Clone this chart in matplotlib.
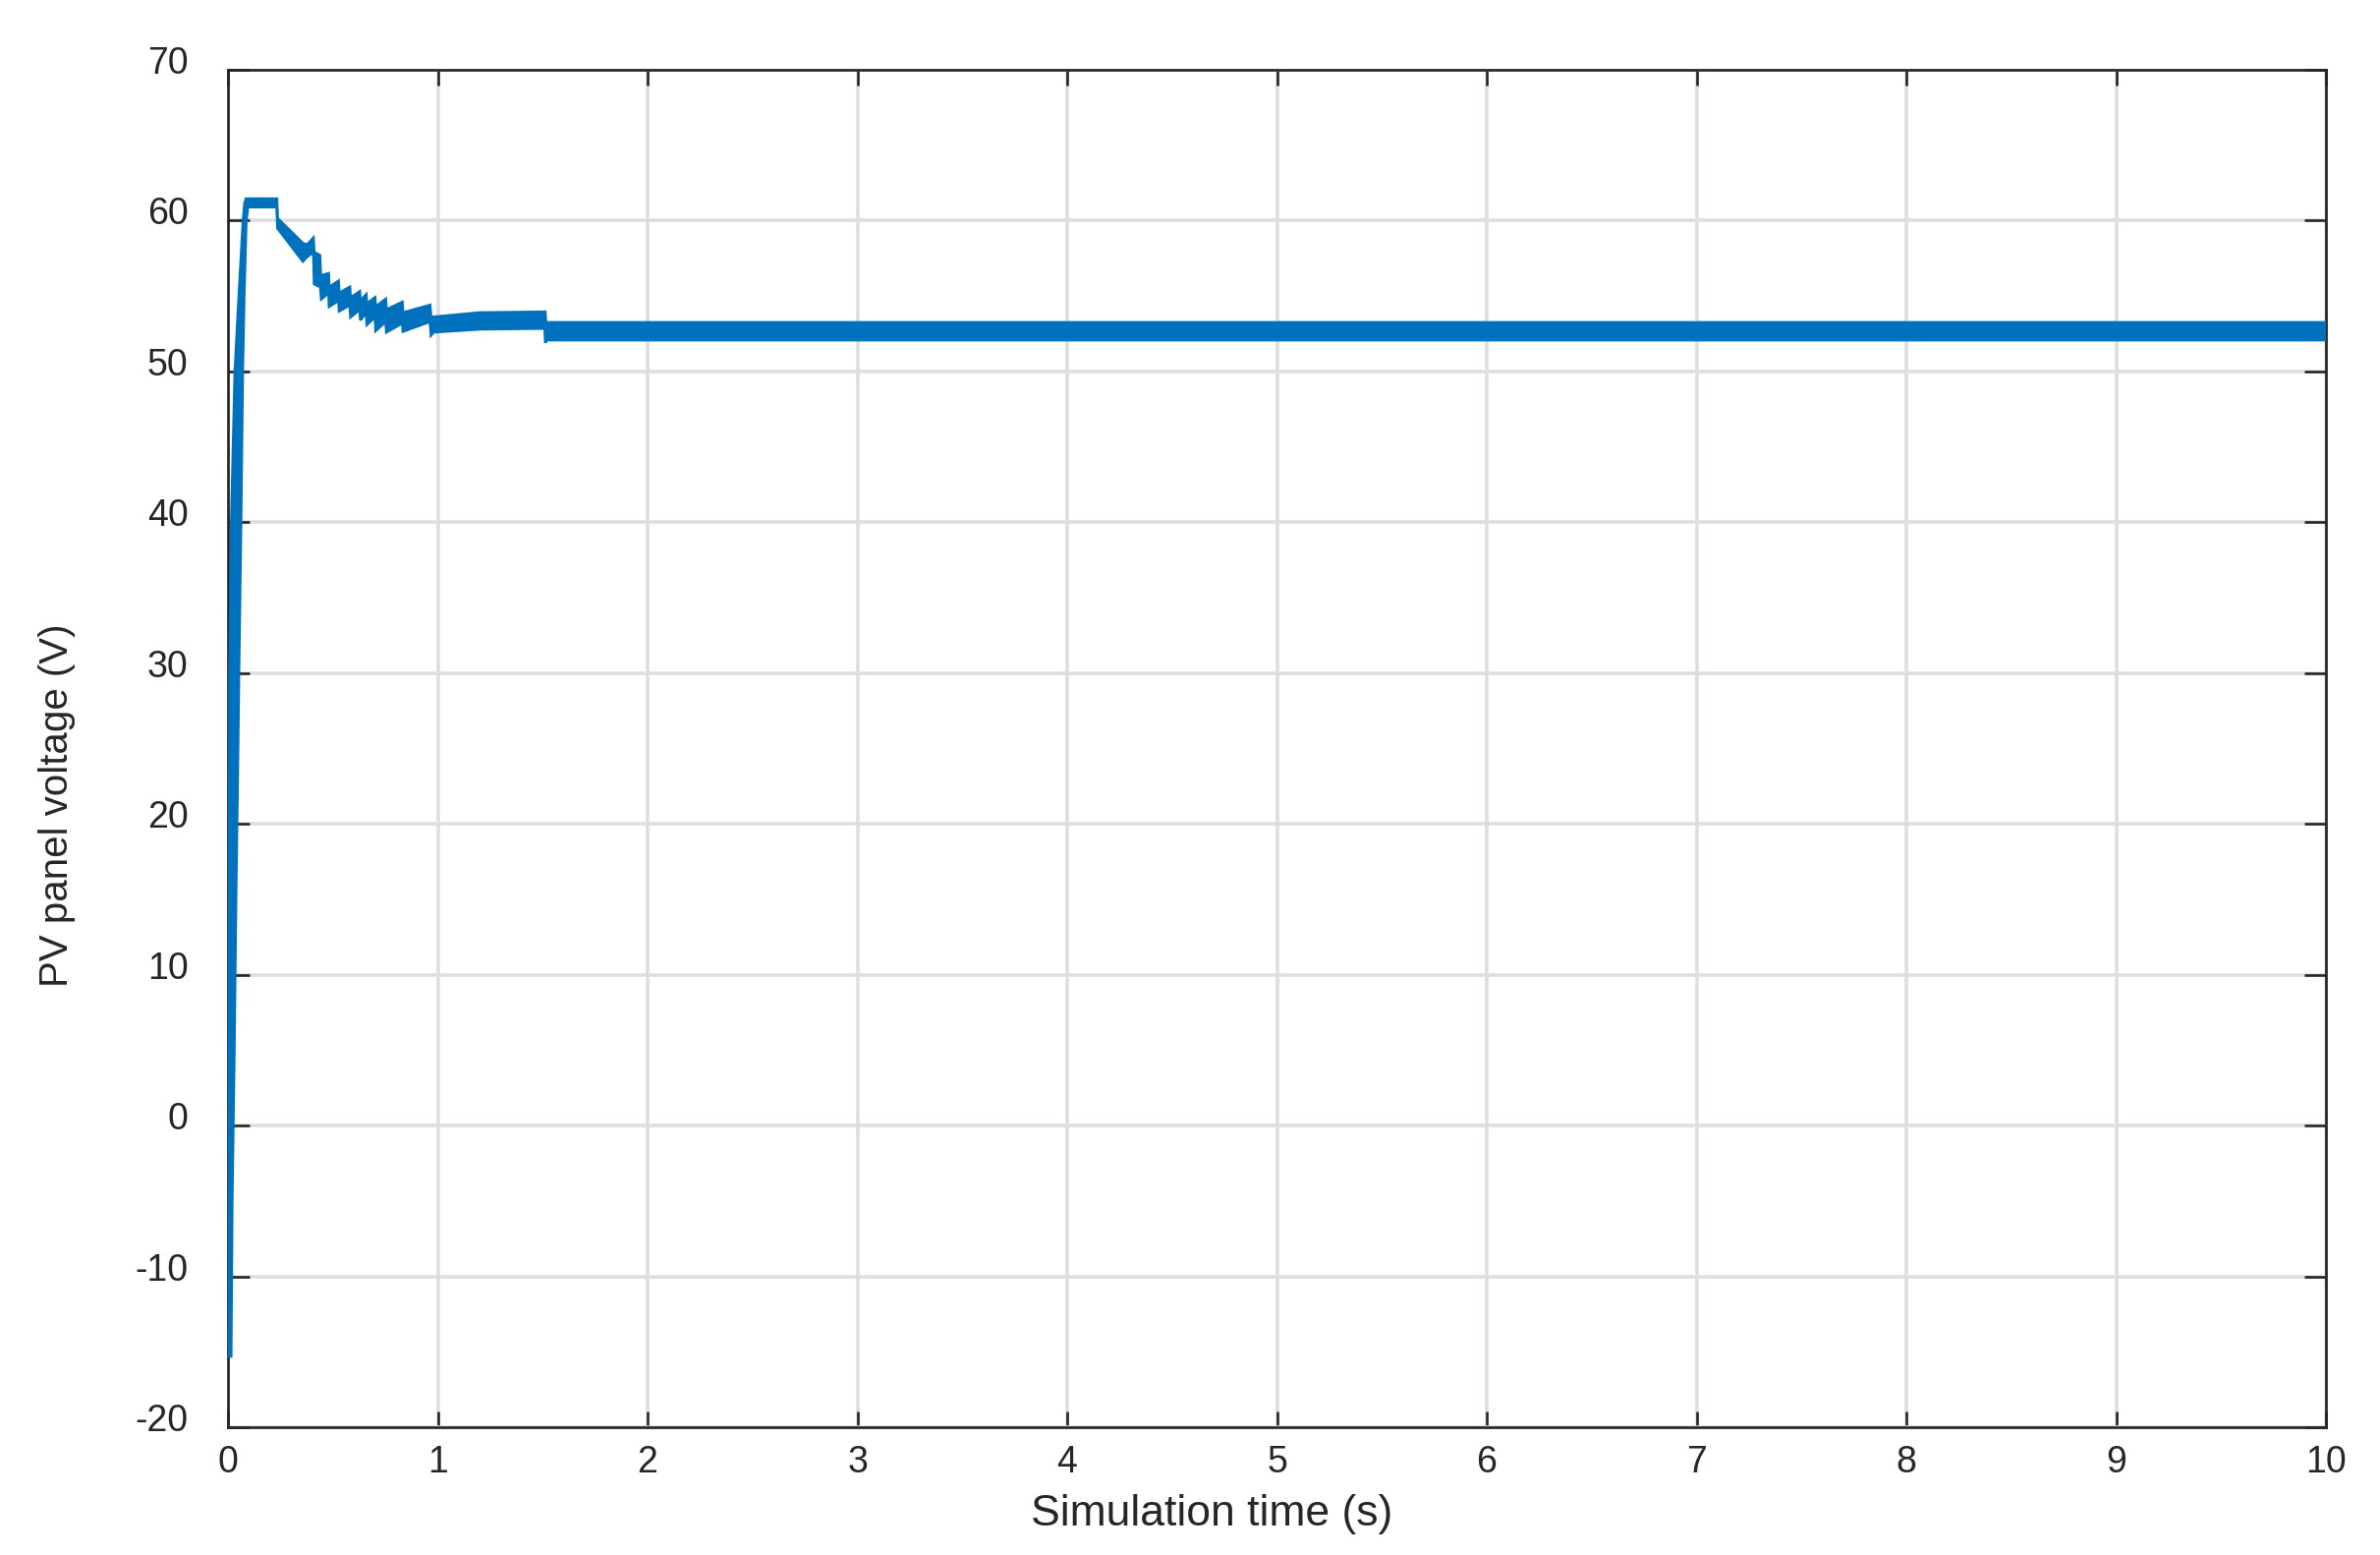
import numpy as np
import matplotlib
matplotlib.use("Agg")
import matplotlib.pyplot as plt
from matplotlib.transforms import ScaledTranslation

# ---- data ----
# upper envelope of the PV voltage trace (time s, voltage V)
t_upper = [0.000, 0.002, 0.004, 0.006, 0.008, 0.016, 0.033, 0.052, 0.072, 0.080,
           0.086, 0.233, 0.236, 0.357, 0.377, 0.407, 0.411, 0.438, 0.442,
           0.480, 0.482, 0.527, 0.530, 0.581, 0.584, 0.628, 0.631, 0.659, 0.662,
           0.701, 0.704, 0.752, 0.755, 0.831, 0.834, 0.963, 0.968, 1.200, 1.512,
           1.515, 10.0]
v_upper = [-15.3, 0.0, 10.0, 20.0, 30.0, 40.0, 50.0, 55.0, 60.0, 61.2,
           61.45, 61.45, 60.15, 58.5, 58.4, 58.85, 57.9, 57.7, 56.35,
           56.5, 55.6, 56.0, 55.2, 55.6, 54.9, 55.3, 54.7, 55.1, 54.5,
           54.9, 54.3, 54.8, 54.1, 54.6, 53.9, 54.4, 53.6, 53.9, 53.95,
           53.25, 53.25]
# lower envelope of the PV voltage trace
t_lower = [0.015, 0.020, 0.030, 0.038, 0.045, 0.052, 0.062, 0.070, 0.077, 0.087,
           0.095, 0.233, 0.236, 0.357, 0.377, 0.407, 0.411, 0.440, 0.445,
           0.480, 0.482, 0.527, 0.530, 0.581, 0.584, 0.628, 0.631, 0.659, 0.662,
           0.701, 0.704, 0.752, 0.755, 0.831, 0.834, 0.963, 0.968, 0.980, 1.200,
           1.510, 1.513, 1.518, 10.0]
v_lower = [-15.3, -5.0, 5.0, 15.0, 22.0, 30.0, 40.0, 50.0, 55.0, 60.0,
           60.9, 60.9, 59.5, 57.3, 57.6, 57.9, 55.8, 55.6, 54.8,
           55.2, 54.3, 54.7, 54.0, 54.4, 53.6, 54.1, 53.4, 53.9, 53.1,
           53.6, 52.7, 53.3, 52.6, 53.2, 52.65, 53.3, 52.4, 52.6, 52.8,
           52.85, 51.9, 52.08, 52.08]

x_ticks = [0, 1, 2, 3, 4, 5, 6, 7, 8, 9, 10]
y_ticks = [-20, -10, 0, 10, 20, 30, 40, 50, 60, 70]
x_label = "Simulation time (s)"
y_label = "PV panel voltage (V)"

BLUE = "#0072BD"
DARK = "#262626"
GRID = "#dedede"

plt.rcParams["font.family"] = ["Liberation Sans", "DejaVu Sans"]
plt.rcParams["axes.unicode_minus"] = False

W, H = 2422, 1582
fig = plt.figure(figsize=(W / 100, H / 100), dpi=100)
ax = fig.add_axes([232 / W, (H - 1452) / H, 2135 / W, 1381 / H])

tu = np.asarray(t_upper); vu = np.asarray(v_upper)
tl = np.asarray(t_lower); vl = np.asarray(v_lower)
ax.fill(np.concatenate([tu, tl[::-1]]), np.concatenate([vu, vl[::-1]]),
        color=BLUE, lw=0, zorder=3)
ax.plot(tu, vu, color=BLUE, lw=2.0, zorder=3, solid_joinstyle="miter")
ax.plot(tl, vl, color=BLUE, lw=2.0, zorder=3, solid_joinstyle="miter")

ax.set_xlim(0, 10)
ax.set_ylim(-20, 70)
ax.set_xticks(x_ticks)
ax.set_yticks(y_ticks)
ax.set_axisbelow(True)
ax.grid(True, color=GRID, lw=2.6)

ax.tick_params(axis="x", direction="in", length=11.5, width=1.9, top=True,
               bottom=True, pad=13, labelsize=27, colors=DARK)
ax.tick_params(axis="y", direction="in", length=16, width=1.9, left=True,
               right=True, pad=29, labelsize=27, colors=DARK)
for s in ax.spines.values():
    s.set_linewidth(1.95)
    s.set_color(DARK)

off = ScaledTranslation(0, 0.10, fig.dpi_scale_trans)
for lbl in ax.get_yticklabels():
    lbl.set_transform(lbl.get_transform() + off)

ax.set_xlabel(x_label, fontsize=32, color=DARK, va="center")
ax.xaxis.set_label_coords(0.469, -0.0644)
ax.set_ylabel(y_label, fontsize=29, color=DARK, va="center")
ax.yaxis.set_label_coords(-0.0815, 0.458)

fig.savefig("out.png", dpi=100, facecolor="white")
